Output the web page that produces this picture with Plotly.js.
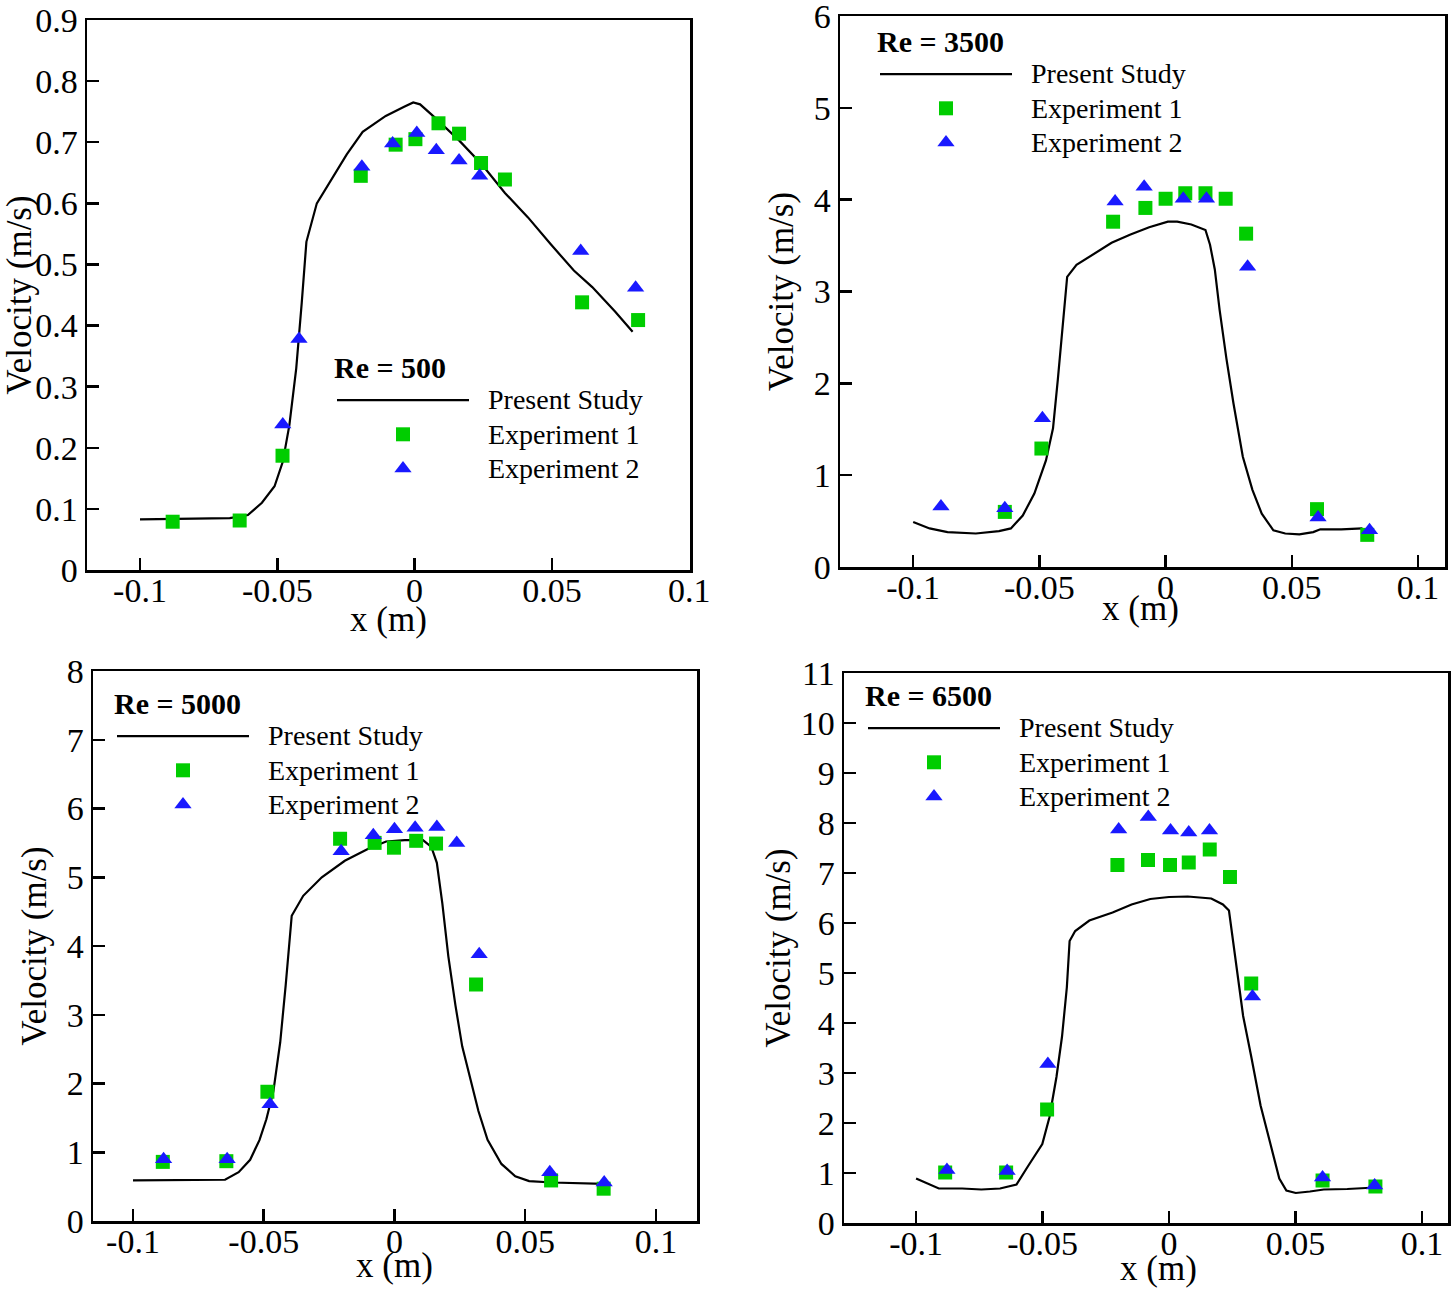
<!DOCTYPE html>
<html>
<head>
<meta charset="utf-8">
<script src="https://cdn.plot.ly/plotly-3.0.1.min.js"></script>
<style>html,body{margin:0;padding:0;background:#fff;}#chart{width:1453px;height:1289px;}</style>
</head>
<body>
<div id="chart"></div>
<script>
// ---------- tick labels ----------
const xTickVals = [-0.1, -0.05, 0, 0.05, 0.1];
const xTickText = ['-0.1', '-0.05', '0', '0.05', '0.1'];
const yTickVals500 = [0, 0.1, 0.2, 0.3, 0.4, 0.5, 0.6, 0.7, 0.8, 0.9];
const yTickText500 = ['0', '0.1', '0.2', '0.3', '0.4', '0.5', '0.6', '0.7', '0.8', '0.9'];
const yTickVals3500 = [0, 1, 2, 3, 4, 5, 6];
const yTickVals5000 = [0, 1, 2, 3, 4, 5, 6, 7, 8];
const yTickVals6500 = [0, 1, 2, 3, 4, 5, 6, 7, 8, 9, 10, 11];

// ---------- texts ----------
const panelTitles = ['Re = 500', 'Re = 3500', 'Re = 5000', 'Re = 6500'];
const seriesNames = ['Present Study', 'Experiment 1', 'Experiment 2'];
const xTitle = 'x (m)';
const yTitle = 'Velocity (m/s)';

// ---------- Re = 500 ----------
const re500_sim_x = [-0.1, -0.0673, -0.0607, -0.0556, -0.051, -0.048, -0.0456, -0.0431, -0.0411, -0.0394, -0.0356, -0.0306, -0.0247, -0.0189, -0.0105, -0.0038, -0.0005, 0.002, 0.007, 0.0162, 0.0246, 0.0329, 0.0413, 0.0496, 0.058, 0.0647, 0.073, 0.0794];
const re500_sim_v = [0.083, 0.085, 0.090, 0.110, 0.137, 0.177, 0.237, 0.330, 0.437, 0.537, 0.600, 0.637, 0.680, 0.717, 0.743, 0.758, 0.765, 0.762, 0.742, 0.703, 0.663, 0.617, 0.577, 0.533, 0.490, 0.463, 0.423, 0.390];
const re500_exp1_x = [-0.0881, -0.0637, -0.0481, -0.0196, -0.0069, 0.0003, 0.0087, 0.0162, 0.0242, 0.0329, 0.061, 0.0814];
const re500_exp1_v = [0.079, 0.081, 0.187, 0.645, 0.696, 0.705, 0.731, 0.714, 0.666, 0.639, 0.438, 0.409];
const re500_exp2_x = [-0.048, -0.0421, -0.0192, -0.008, 0.0008, 0.0079, 0.0162, 0.0237, 0.0605, 0.0805];
const re500_exp2_v = [0.238, 0.378, 0.660, 0.698, 0.715, 0.687, 0.670, 0.645, 0.522, 0.462];

// ---------- Re = 3500 ----------
const re3500_sim_x = [-0.1, -0.0935, -0.0864, -0.0752, -0.066, -0.0613, -0.0566, -0.052, -0.0474, -0.0446, -0.0427, -0.0409, -0.039, -0.0353, -0.0288, -0.0214, -0.0139, -0.0065, 0.0009, 0.0046, 0.0102, 0.0158, 0.0176, 0.0195, 0.0214, 0.0241, 0.0269, 0.0306, 0.0344, 0.0381, 0.0427, 0.0474, 0.053, 0.0585, 0.0613, 0.0696, 0.078];
const re3500_sim_v = [0.49, 0.42, 0.38, 0.365, 0.39, 0.42, 0.56, 0.80, 1.16, 1.51, 2.04, 2.62, 3.16, 3.29, 3.40, 3.53, 3.62, 3.70, 3.76, 3.76, 3.73, 3.67, 3.51, 3.24, 2.80, 2.27, 1.78, 1.20, 0.84, 0.58, 0.40, 0.365, 0.355, 0.38, 0.41, 0.41, 0.42];
const re3500_exp1_x = [-0.0637, -0.0492, -0.0208, -0.008, 0.0, 0.0078, 0.0158, 0.0238, 0.0319, 0.06, 0.0799];
const re3500_exp1_v = [0.60, 1.29, 3.76, 3.91, 4.01, 4.07, 4.07, 4.01, 3.63, 0.63, 0.35];
const re3500_exp2_x = [-0.089, -0.0637, -0.0488, -0.02, -0.0085, 0.007, 0.0162, 0.0325, 0.0604, 0.0808];
const re3500_exp2_v = [0.66, 0.64, 1.62, 3.98, 4.14, 4.01, 4.01, 3.27, 0.54, 0.40];

// ---------- Re = 5000 ----------
const re5000_sim_x = [-0.1, -0.0807, -0.0648, -0.0596, -0.0552, -0.0516, -0.049, -0.0463, -0.0437, -0.0416, -0.0393, -0.0349, -0.0278, -0.019, -0.0102, -0.0032, 0.0039, 0.0109, 0.0141, 0.0162, 0.0183, 0.0206, 0.0233, 0.0259, 0.0285, 0.0321, 0.0356, 0.0409, 0.0462, 0.0515, 0.0603, 0.0802];
const re5000_sim_v = [0.59, 0.59, 0.60, 0.71, 0.89, 1.18, 1.48, 1.89, 2.60, 3.43, 4.44, 4.73, 5.00, 5.24, 5.41, 5.52, 5.54, 5.54, 5.44, 5.21, 4.62, 3.85, 3.14, 2.54, 2.13, 1.60, 1.18, 0.83, 0.65, 0.58, 0.56, 0.54];
const re5000_exp1_x = [-0.0886, -0.0643, -0.0486, -0.0208, -0.0076, -0.0002, 0.0083, 0.0159, 0.0312, 0.0599, 0.08];
const re5000_exp1_v = [0.86, 0.87, 1.88, 5.56, 5.50, 5.43, 5.53, 5.49, 3.44, 0.59, 0.47];
const re5000_exp2_x = [-0.0883, -0.064, -0.0476, -0.0204, -0.0081, 0.0, 0.0079, 0.0162, 0.0238, 0.0324, 0.0594, 0.0802];
const re5000_exp2_v = [0.90, 0.90, 1.70, 5.38, 5.61, 5.70, 5.72, 5.73, 5.50, 3.88, 0.71, 0.56];

// ---------- Re = 6500 ----------
const re6500_sim_x = [-0.1, -0.0957, -0.091, -0.0818, -0.0742, -0.0668, -0.0603, -0.0557, -0.0501, -0.0473, -0.0445, -0.0423, -0.0404, -0.0393, -0.0371, -0.0315, -0.0223, -0.0148, -0.0074, 0.0, 0.0074, 0.0167, 0.0213, 0.0237, 0.025, 0.0269, 0.0293, 0.0325, 0.0362, 0.0399, 0.0436, 0.0464, 0.0501, 0.0557, 0.0612, 0.0705, 0.0816];
const re6500_sim_v = [0.89, 0.80, 0.69, 0.69, 0.67, 0.69, 0.77, 1.14, 1.58, 2.11, 2.92, 3.73, 4.71, 5.64, 5.84, 6.05, 6.21, 6.37, 6.48, 6.52, 6.53, 6.49, 6.37, 6.25, 5.76, 4.95, 4.14, 3.33, 2.35, 1.62, 0.89, 0.65, 0.60, 0.63, 0.67, 0.68, 0.71];
const re6500_exp1_x = [-0.0885, -0.0644, -0.0482, -0.0204, -0.0083, 0.0004, 0.0078, 0.0161, 0.0241, 0.0325, 0.0607, 0.0816];
const re6500_exp1_v = [1.01, 1.01, 2.27, 7.16, 7.26, 7.16, 7.21, 7.47, 6.92, 4.79, 0.85, 0.73];
const re6500_exp2_x = [-0.0878, -0.064, -0.0479, -0.0199, -0.0082, 0.0006, 0.0078, 0.016, 0.033, 0.0607, 0.0813];
const re6500_exp2_v = [1.06, 1.04, 3.18, 7.87, 8.12, 7.85, 7.81, 7.85, 4.53, 0.91, 0.75];

// ---------- styling ----------
const FONT = 'Liberation Serif, Times New Roman, serif';
const GREEN = 'rgb(0,205,0)';
const BLUE = 'rgb(25,25,255)';
const LEGEND_TEXT = s => '<span style="font-size:28px">\u00a0\u00a0' + s + '</span>';

const panels = [
  {sx: re500_sim_x, sv: re500_sim_v, e1x: re500_exp1_x, e1v: re500_exp1_v, e2x: re500_exp2_x, e2v: re500_exp2_v},
  {sx: re3500_sim_x, sv: re3500_sim_v, e1x: re3500_exp1_x, e1v: re3500_exp1_v, e2x: re3500_exp2_x, e2v: re3500_exp2_v},
  {sx: re5000_sim_x, sv: re5000_sim_v, e1x: re5000_exp1_x, e1v: re5000_exp1_v, e2x: re5000_exp2_x, e2v: re5000_exp2_v},
  {sx: re6500_sim_x, sv: re6500_sim_v, e1x: re6500_exp1_x, e1v: re6500_exp1_v, e2x: re6500_exp2_x, e2v: re6500_exp2_v}
];

const traces = [];
panels.forEach((p, i) => {
  const n = i === 0 ? '' : String(i + 1);
  const leg = 'legend' + n;
  traces.push({type: 'scatter', mode: 'lines', x: p.sx, y: p.sv, name: LEGEND_TEXT(seriesNames[0]),
    xaxis: 'x' + n, yaxis: 'y' + n, legend: leg, line: {color: 'black', width: 2.2}});
  traces.push({type: 'scatter', mode: 'markers', x: p.e1x, y: p.e1v, name: LEGEND_TEXT(seriesNames[1]),
    xaxis: 'x' + n, yaxis: 'y' + n, legend: leg, marker: {symbol: 'square', size: 14, color: GREEN}});
  traces.push({type: 'scatter', mode: 'markers', x: p.e2x, y: p.e2v, name: LEGEND_TEXT(seriesNames[2]),
    xaxis: 'x' + n, yaxis: 'y' + n, legend: leg, marker: {symbol: 'triangle-up', size: 15, color: BLUE}});
});

const W = 1453, H = 1289;
const px = v => v / W;
const py = v => 1 - v / H;

const AX_COMMON = {
  ticks: 'inside', ticklen: 12, tickwidth: 2.5, tickcolor: 'black',
  showline: true, linecolor: 'black', linewidth: 2.5, mirror: true,
  showgrid: false, zeroline: false, ticklabeloverflow: 'allow',
  tickfont: {family: FONT, size: 34, color: 'black'}
};
function xAxis(domain, range, anchor) {
  return Object.assign({}, AX_COMMON, {
    domain: domain, range: range, anchor: anchor,
    tickvals: xTickVals, ticktext: xTickText, ticklabelstandoff: -11
  });
}
function yAxis(domain, range, anchor, vals, text, standoff) {
  return Object.assign({}, AX_COMMON, {
    domain: domain, range: range, anchor: anchor,
    tickvals: vals, ticktext: text,
    title: {text: yTitle, font: {family: FONT, size: 35, color: 'black'}, standoff: standoff}
  });
}
function legend(x, y, title) {
  return {
    x: x, y: y, xanchor: 'left', yanchor: 'top',
    bgcolor: 'rgba(0,0,0,0)', borderwidth: 0,
    itemwidth: 132, itemclick: false, itemdoubleclick: false,
    font: {family: FONT, size: 24, color: 'black'},
    title: {text: '<b>' + title + '</b>', font: {family: FONT, size: 30, color: 'black'}}
  };
}
function xTitleAnn(x, y) {
  return {xref: 'paper', yref: 'paper', x: px(x), y: py(y), xanchor: 'center', yanchor: 'middle',
    showarrow: false, text: xTitle, font: {family: FONT, size: 35, color: 'black'}};
}

const layout = {
  width: W, height: H,
  margin: {l: 0, r: 0, t: 0, b: 0},
  paper_bgcolor: 'white', plot_bgcolor: 'white',
  showlegend: true,
  xaxis: xAxis([px(87), px(690)], [-0.1193, 0.1003], 'y'),
  yaxis: yAxis([py(570), py(20)], [0, 0.9], 'x', yTickVals500, yTickText500, 0),
  xaxis2: xAxis([px(840), px(1445)], [-0.129, 0.1107], 'y2'),
  yaxis2: yAxis([py(567), py(16)], [0, 6], 'x2', yTickVals3500, yTickVals3500.map(String), 10),
  xaxis3: xAxis([px(93), px(697)], [-0.1153, 0.1157], 'y3'),
  yaxis3: yAxis([py(1221), py(671)], [0, 8], 'x3', yTickVals5000, yTickVals5000.map(String), 10),
  xaxis4: xAxis([px(844), px(1448)], [-0.1285, 0.1103], 'y4'),
  yaxis4: yAxis([py(1223), py(673)], [0, 11], 'x4', yTickVals6500, yTickVals6500.map(String), 0),
  legend: legend(px(332), py(339), panelTitles[0]),
  legend2: legend(px(875), py(13), panelTitles[1]),
  legend3: legend(px(112), py(675), panelTitles[2]),
  legend4: legend(px(863), py(667), panelTitles[3]),
  annotations: [
    xTitleAnn(388, 620), xTitleAnn(1140, 608), xTitleAnn(395, 1265), xTitleAnn(1158, 1268)
  ]
};

Plotly.newPlot('chart', traces, layout, {displayModeBar: false, staticPlot: true});
</script>
</body>
</html>
